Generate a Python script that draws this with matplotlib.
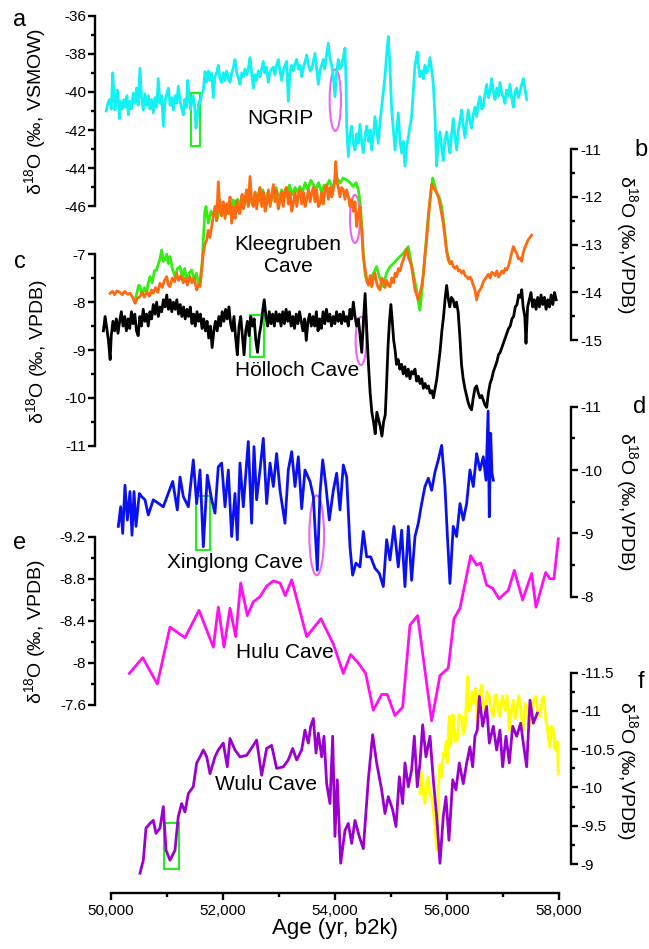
import numpy as np
import matplotlib
matplotlib.use("Agg")
import matplotlib.pyplot as plt
from matplotlib.patches import Rectangle, Ellipse
from matplotlib.ticker import FuncFormatter, MultipleLocator

plt.rcParams['font.family'] = ['Liberation Sans', 'DejaVu Sans']
plt.rcParams['mathtext.fontset'] = 'custom'
plt.rcParams['mathtext.rm'] = 'Liberation Sans'
plt.rcParams['mathtext.it'] = 'Liberation Sans'
plt.rcParams['axes.unicode_minus'] = False

# ---------------- data ----------------
ngrip_age = [49920, 49950, 49980, 50010, 50036, 50060, 50077, 50100, 50118, 50140, 50154, 50180, 50210,
             50237, 50260, 50290, 50314, 50340, 50370, 50403, 50430, 50460, 50490, 50523, 50550, 50582,
             50610, 50640, 50671, 50700, 50730, 50760, 50790, 50820, 50849, 50880, 50910, 50939, 50970,
             51000, 51028, 51060, 51090, 51117, 51150, 51180, 51206, 51240, 51270, 51296, 51320, 51350,
             51374, 51400, 51425, 51445, 51470, 51500, 51522, 51550, 51575, 51594, 51620, 51653, 51683,
             51710, 51742, 51772, 51800, 51831, 51860, 51890, 51920, 51950, 51980, 52010, 52040, 52069,
             52100, 52129, 52160, 52190, 52218, 52250, 52280, 52307, 52340, 52370, 52396, 52430, 52460,
             52486, 52515, 52545, 52575, 52605, 52634, 52665, 52695, 52723, 52750, 52780, 52812, 52840,
             52870, 52902, 52930, 52960, 52991, 53020, 53051, 53080, 53110, 53140, 53169, 53200, 53230,
             53260, 53290, 53319, 53350, 53380, 53408, 53440, 53470, 53497, 53530, 53560, 53587, 53615,
             53646, 53675, 53705, 53735, 53765, 53794, 53820, 53850, 53883, 53910, 53943, 53970, 54002,
             54030, 54062, 54090, 54121, 54150, 54181, 54200, 54211, 54240, 54270, 54300, 54330, 54359,
             54390, 54420, 54448, 54478, 54508, 54538, 54568, 54600, 54630, 54657, 54690, 54716, 54745,
             54775, 54805, 54835, 54865, 54895, 54925, 54954, 54985, 55014, 55045, 55073, 55100, 55132,
             55160, 55192, 55220, 55251, 55280, 55311, 55340, 55370, 55400, 55430, 55450, 55471, 55495,
             55519, 55550, 55580, 55608, 55640, 55670, 55698, 55730, 55757, 55790, 55817, 55845, 55876,
             55905, 55935, 55965, 55995, 56025, 56054, 56085, 56113, 56143, 56173, 56205, 56235, 56263,
             56293, 56322, 56352, 56381, 56410, 56441, 56470, 56500, 56530, 56560, 56590, 56620, 56649,
             56680, 56709, 56740, 56770, 56798, 56830, 56858, 56890, 56920, 56947, 56980, 57010, 57036,
             57065, 57095, 57126, 57155, 57185, 57215, 57245, 57275, 57305, 57335, 57363, 57395, 57423]
ngrip_d18o = [-41.0, -40.6, -40.4, -40.9, -39.0, -40.2, -40.95, -40.3, -39.9, -40.6, -41.4, -40.5, -40.9,
              -40.4, -40.8, -40.2, -41.2, -40.5, -40.9, -40.07, -40.6, -39.8, -40.7, -38.76, -40.3, -40.95,
              -40.1, -40.7, -40.2, -40.9, -40.4, -41.1, -40.3, -40.8, -39.3, -40.6, -40.2, -41.8, -40.5,
              -40.1, -39.8, -40.7, -40.3, -40.95, -40.2, -40.6, -39.7, -40.5, -40.9, -41.2, -40.4, -40.8,
              -39.4, -40.3, -40.9, -40.6, -40.2, -40.8, -41.9, -41.2, -40.5, -40.6, -40.2, -39.9, -38.94,
              -39.5, -38.9, -39.4, -39.0, -40.3, -39.2, -39.0, -38.6, -39.3, -39.5, -39.0, -39.4, -38.9,
              -39.3, -39.5, -39.0, -38.7, -38.3, -39.0, -39.3, -39.6, -39.0, -39.2, -38.8, -39.1, -38.7,
              -38.2, -39.0, -39.8, -39.1, -39.4, -38.9, -39.2, -38.8, -38.4, -39.0, -38.7, -39.5, -39.0,
              -38.8, -38.7, -39.1, -38.6, -38.3, -38.9, -39.4, -38.9, -38.6, -38.4, -40.5, -39.0, -38.6,
              -38.9, -38.5, -38.3, -38.8, -38.6, -39.2, -38.7, -38.4, -38.06, -38.6, -38.9, -38.8, -38.4,
              -37.98, -38.8, -39.6, -38.9, -38.6, -38.3, -38.8, -38.1, -37.45, -38.2, -38.6, -39.1, -40.25,
              -39.0, -38.3, -38.8, -38.6, -38.2, -37.7, -39.5, -41.8, -43.4, -42.3, -41.8, -42.7, -43.05,
              -42.2, -42.7, -41.7, -42.6, -43.2, -42.3, -41.8, -42.6, -42.0, -43.05, -42.2, -41.3, -42.0,
              -42.7, -41.6, -40.8, -40.0, -39.2, -38.0, -37.1, -38.8, -40.95, -42.0, -43.05, -42.2, -41.1,
              -42.5, -43.2, -42.6, -43.9, -42.9, -42.4, -41.8, -41.3, -40.0, -38.6, -38.3, -37.9, -38.7,
              -39.2, -38.9, -39.3, -38.6, -39.0, -38.7, -38.2, -38.9, -39.6, -41.5, -43.9, -42.7, -42.1,
              -42.9, -43.6, -42.5, -42.1, -42.7, -43.2, -42.2, -41.4, -42.3, -43.05, -42.0, -41.5, -40.95,
              -41.8, -42.4, -41.6, -40.95, -41.5, -41.9, -41.2, -40.8, -41.3, -40.6, -40.25, -40.9, -40.8,
              -40.1, -39.6, -40.3, -40.0, -39.3, -40.0, -40.4, -39.8, -40.2, -39.5, -40.1, -40.3, -40.6,
              -39.9, -40.2, -39.6, -40.3, -40.8, -40.0, -39.8, -40.3, -40.0, -39.6, -39.3, -39.9, -40.4]

klee_orange_age = [49988, 50030, 50070, 50110, 50166, 50210, 50250, 50300, 50344, 50390, 50434, 50480, 50523,
                   50560, 50600, 50642, 50690, 50730, 50760, 50800, 50840, 50880, 50920, 50960, 50999, 51030,
                   51058, 51100, 51140, 51177, 51210, 51250, 51296, 51330, 51370, 51415, 51450, 51490, 51534,
                   51565, 51594, 51625, 51653, 51680, 51713, 51740, 51770, 51802, 51830, 51861, 51890, 51920,
                   51950, 51980, 52010, 52040, 52069, 52100, 52130, 52158, 52190, 52220, 52248, 52280, 52307,
                   52340, 52370, 52400, 52426, 52455, 52486, 52515, 52545, 52575, 52605, 52635, 52664, 52695,
                   52725, 52755, 52783, 52815, 52845, 52875, 52902, 52930, 52960, 52990, 53021, 53050, 53080,
                   53110, 53140, 53170, 53200, 53230, 53258, 53290, 53320, 53350, 53377, 53410, 53440, 53470,
                   53497, 53530, 53560, 53590, 53616, 53645, 53675, 53705, 53735, 53765, 53795, 53825, 53854,
                   53885, 53915, 53945, 53973, 54000, 54016, 54040, 54062, 54090, 54120, 54151, 54180, 54210,
                   54240, 54270, 54300, 54330, 54360, 54389, 54420, 54448, 54478, 54508, 54538, 54568, 54600,
                   54630, 54657, 54690, 54716, 54745, 54775, 54806, 54835, 54865, 54895, 54925, 54955, 54984,
                   55015, 55045, 55075, 55103, 55135, 55165, 55195, 55222, 55250, 55281, 55310, 55340, 55370,
                   55400, 55430, 55460, 55489, 55520, 55549, 55580, 55610, 55638, 55665, 55695, 55727, 55757,
                   55787, 55815, 55846, 55875, 55905, 55935, 55965, 55995, 56024, 56055, 56085, 56113, 56145,
                   56175, 56205, 56233, 56265, 56295, 56325, 56352, 56385, 56415, 56441, 56470, 56500, 56530,
                   56560, 56590, 56620, 56650, 56680, 56709, 56740, 56770, 56800, 56828, 56860, 56890, 56920,
                   56947, 56980, 57010, 57040, 57066, 57100, 57130, 57160, 57185, 57215, 57245, 57275, 57305,
                   57334, 57365, 57395, 57423, 57450, 57480, 57512]
klee_orange_d18o = [-14.02, -13.98, -14.05, -13.97, -14.0, -14.05, -13.98, -14.04, -14.02, -14.1, -14.23, -14.12, -14.09,
                    -14.0, -14.1, -13.99, -14.08, -13.95, -14.02, -13.9, -14.0, -13.81, -13.9, -13.75, -13.67, -13.85,
                    -13.88, -13.7, -13.78, -13.6, -13.75, -13.65, -13.8, -13.7, -13.85, -13.67, -13.8, -13.7, -13.95,
                    -13.85, -13.88, -13.5, -13.18, -13.0, -12.9, -12.7, -12.85, -12.62, -12.4, -12.2, -12.5, -11.68,
                    -12.3, -12.4, -12.1, -12.45, -12.14, -12.35, -12.0, -12.55, -12.2, -12.45, -12.07, -12.3, -12.35,
                    -11.95, -12.25, -12.0, -11.85, -12.2, -11.57, -12.1, -12.2, -11.9, -12.25, -11.95, -11.8, -12.2,
                    -11.9, -12.3, -12.14, -11.85, -12.2, -11.95, -11.74, -12.1, -11.85, -12.25, -12.1, -11.9, -12.2,
                    -11.85, -11.8, -12.15, -11.9, -12.3, -12.14, -11.9, -12.2, -11.95, -11.85, -12.15, -11.9, -12.2,
                    -12.06, -11.85, -12.1, -11.9, -11.8, -12.1, -11.85, -12.2, -12.14, -11.9, -12.15, -11.8, -11.74,
                    -12.05, -11.8, -12.0, -11.85, -11.6, -11.26, -11.7, -11.8, -12.0, -11.8, -11.85, -12.05, -11.85,
                    -11.99, -12.2, -12.05, -12.3, -12.1, -12.62, -12.35, -12.2, -12.7, -13.25, -13.5, -13.74, -13.85,
                    -13.65, -13.88, -13.7, -13.6, -13.8, -13.9, -13.95, -13.7, -13.74, -13.9, -13.75, -13.85, -13.88,
                    -13.7, -13.8, -13.6, -13.67, -13.5, -13.55, -13.4, -13.32, -13.2, -13.1, -13.25, -13.35, -13.46,
                    -13.7, -13.95, -14.05, -14.16, -14.0, -13.88, -13.6, -13.2, -12.9, -12.5, -12.1, -11.74, -11.8,
                    -11.85, -11.9, -11.99, -12.15, -12.35, -12.55, -12.85, -13.15, -13.32, -13.4, -13.35, -13.46, -13.5,
                    -13.45, -13.55, -13.53, -13.6, -13.55, -13.65, -13.67, -13.72, -13.68, -13.74, -13.85, -13.95, -14.16,
                    -14.0, -13.95, -13.88, -13.78, -13.72, -13.67, -13.62, -13.7, -13.58, -13.6, -13.65, -13.55, -13.68,
                    -13.63, -13.55, -13.6, -13.5, -13.53, -13.45, -13.3, -13.15, -13.04, -13.12, -13.18, -13.3, -13.28,
                    -13.35, -13.15, -13.05, -12.97, -12.9, -12.85, -12.8]

klee_green_age = [50434, 50470, 50500, 50523, 50560, 50600, 50642, 50670, 50701, 50740, 50780, 50820, 50850,
                  50880, 50909, 50940, 50969, 51000, 51030, 51058, 51100, 51147, 51190, 51237, 51280, 51320,
                  51356, 51400, 51445, 51490, 51530, 51564, 51600, 51630, 51653, 51680, 51701, 51742, 51790,
                  51832, 51870, 51910, 51950, 51990, 52030, 52069, 52110, 52150, 52188, 52230, 52270, 52307,
                  52350, 52400, 52440, 52486, 52530, 52580, 52620, 52664, 52710, 52760, 52810, 52860, 52902,
                  52950, 53000, 53050, 53100, 53140, 53190, 53240, 53290, 53340, 53377, 53420, 53470, 53520,
                  53570, 53616, 53660, 53710, 53760, 53810, 53854, 53900, 53950, 54000, 54040, 54092, 54150,
                  54211, 54270, 54330, 54380, 54419, 54450, 54478, 54508, 54538, 54580, 54627, 54690, 54746,
                  54800, 54865, 54920, 54984, 55040, 55103, 55160, 55222, 55270, 55311, 55350, 55400, 55450,
                  55490, 55519, 55560, 55608, 55650, 55698, 55745, 55780, 55817, 55860, 55906, 55950, 55995,
                  56054]
klee_green_d18o = [-14.16, -14.0, -13.85, -13.88, -14.05, -13.9, -14.02, -13.8, -13.67, -13.8, -13.55, -13.53, -13.4,
                   -13.3, -13.11, -13.35, -13.32, -13.2, -13.4, -13.25, -13.5, -13.67, -13.5, -13.46, -13.7, -13.5,
                   -13.74, -13.6, -13.53, -13.75, -13.6, -13.81, -13.7, -13.4, -12.9, -12.3, -12.2, -12.55, -12.3,
                   -12.41, -12.2, -12.45, -12.06, -12.3, -12.2, -12.35, -12.1, -12.3, -12.06, -12.25, -12.05, -12.2,
                   -11.95, -12.15, -11.9, -11.99, -12.15, -11.9, -12.1, -12.06, -11.85, -12.05, -11.9, -12.1, -11.92,
                   -11.8, -12.05, -11.85, -12.0, -11.99, -11.75, -11.95, -11.8, -11.9, -11.78, -11.9, -11.7, -11.85,
                   -11.65, -11.74, -11.85, -11.7, -11.9, -11.75, -11.78, -11.65, -11.8, -11.7, -11.6, -11.71, -11.6,
                   -11.64, -11.7, -11.78, -11.7, -11.85, -12.1, -12.55, -13.2, -13.6, -13.8, -13.74, -13.6, -13.46,
                   -13.7, -13.88, -13.6, -13.46, -13.4, -13.32, -13.25, -13.18, -13.1, -13.04, -13.3, -13.6, -13.9,
                   -14.2, -14.37, -13.9, -13.25, -12.6, -12.06, -11.6, -11.75, -11.92, -12.0, -12.2, -12.6, -13.11,
                   -13.39]

holloch_age = [49870, 49900, 49930, 49960, 49990, 50010, 50040, 50070, 50100, 50130, 50160, 50190, 50220,
               50250, 50280, 50310, 50340, 50370, 50400, 50430, 50460, 50490, 50520, 50550, 50580, 50610,
               50640, 50670, 50700, 50730, 50760, 50790, 50820, 50850, 50880, 50910, 50940, 50970, 51000,
               51030, 51060, 51090, 51120, 51150, 51180, 51210, 51240, 51270, 51300, 51330, 51360, 51390,
               51420, 51450, 51480, 51510, 51540, 51570, 51600, 51630, 51660, 51690, 51720, 51750, 51780,
               51810, 51840, 51870, 51900, 51930, 51960, 51990, 52020, 52050, 52080, 52110, 52140, 52170,
               52200, 52230, 52260, 52290, 52320, 52350, 52380, 52410, 52440, 52470, 52500, 52530, 52560,
               52590, 52620, 52650, 52680, 52710, 52740, 52770, 52800, 52830, 52860, 52890, 52920, 52950,
               52980, 53010, 53040, 53070, 53100, 53130, 53160, 53190, 53220, 53250, 53280, 53310, 53340,
               53370, 53400, 53430, 53460, 53490, 53520, 53550, 53580, 53610, 53640, 53670, 53700, 53730,
               53760, 53790, 53820, 53850, 53880, 53910, 53940, 53970, 54000, 54030, 54060, 54090, 54120,
               54150, 54180, 54210, 54240, 54270, 54300, 54330, 54360, 54390, 54420, 54450, 54480, 54510,
               54540, 54570, 54600, 54630, 54660, 54690, 54720, 54750, 54780, 54810, 54840, 54870, 54900,
               54920, 54950, 54975, 55000, 55025, 55050, 55075, 55100, 55130, 55160, 55190, 55220, 55250,
               55280, 55310, 55340, 55370, 55400, 55430, 55460, 55490, 55520, 55550, 55580, 55610, 55640,
               55670, 55700, 55730, 55760, 55790, 55820, 55850, 55880, 55910, 55940, 55970, 55995, 56020,
               56050, 56080, 56110, 56140, 56170, 56200, 56230, 56260, 56290, 56320, 56350, 56380, 56410,
               56440, 56470, 56500, 56530, 56560, 56590, 56620, 56650, 56680, 56710, 56740, 56770, 56800,
               56830, 56860, 56890, 56920, 56950, 56980, 57010, 57040, 57070, 57100, 57130, 57160, 57190,
               57220, 57250, 57280, 57310, 57335, 57360, 57390, 57411, 57440, 57470, 57500, 57530, 57560,
               57590, 57620, 57650, 57680, 57710, 57740, 57770, 57800, 57830, 57860, 57890, 57920, 57950]
holloch_d18o = [-8.6, -8.3, -8.55, -8.8, -9.2, -8.7, -8.4, -8.6, -8.35, -8.65, -8.4, -8.2, -8.5,
                -8.3, -8.6, -8.35, -8.55, -8.2, -8.45, -8.25, -8.6, -8.7, -8.3, -8.5, -8.15, -8.4,
                -8.25, -8.5, -8.2, -8.35, -8.05, -8.25, -8.0, -8.3, -8.1, -8.2, -7.95, -8.1, -7.85,
                -8.15, -7.95, -8.2, -8.0, -8.15, -7.95, -8.25, -8.05, -8.3, -8.1, -8.35, -8.15, -8.3,
                -8.1, -8.45, -8.25, -8.5, -8.2, -8.4, -8.25, -8.55, -8.35, -8.6, -8.4, -8.75, -8.5,
                -8.95, -8.6, -8.4, -8.6, -8.3, -8.5, -8.2, -8.4, -8.15, -8.35, -8.1, -8.45, -8.6,
                -8.3, -8.75, -9.1, -8.5, -8.3, -8.7, -9.1, -8.6, -8.4, -8.7, -8.3, -8.5, -8.35,
                -8.8, -9.05, -8.7, -8.5, -8.2, -7.95, -8.3, -8.5, -8.2, -8.45, -8.25, -8.5, -8.2,
                -8.4, -8.25, -8.5, -8.2, -8.45, -8.15, -8.4, -8.2, -8.5, -8.3, -8.55, -8.25, -8.45,
                -8.2, -8.4, -8.6, -8.35, -8.8, -8.4, -8.25, -8.5, -8.3, -8.5, -8.2, -8.6, -8.35,
                -8.55, -8.2, -8.45, -8.15, -8.4, -8.25, -8.5, -8.3, -8.45, -8.2, -8.4, -8.25, -8.45,
                -8.2, -8.4, -8.3, -8.5, -8.15, -8.35, -8.0, -8.3, -8.5, -8.35, -8.7, -9.05, -8.4,
                -7.82, -8.6, -9.3, -9.9, -10.3, -10.5, -10.75, -10.3, -10.45, -10.6, -10.8, -10.5, -10.35,
                -9.8, -8.9, -8.4, -8.05, -8.4, -8.8, -9.0, -9.3, -9.2, -9.4, -9.3, -9.5, -9.35,
                -9.55, -9.4, -9.6, -9.45, -9.5, -9.4, -9.65, -9.55, -9.7, -9.6, -9.8, -9.7, -9.8,
                -9.75, -9.9, -9.85, -10.0, -9.8, -9.6, -9.3, -9.0, -8.6, -8.3, -7.9, -7.65, -7.9,
                -8.1, -7.9, -7.95, -8.1, -8.0, -8.2, -8.7, -9.3, -9.6, -9.8, -9.95, -10.1, -10.2,
                -10.25, -10.0, -9.8, -9.75, -9.9, -10.0, -9.95, -10.05, -10.15, -10.2, -9.9, -9.7, -9.6,
                -9.45, -9.35, -9.25, -9.1, -9.05, -8.95, -8.85, -8.75, -8.65, -8.55, -8.5, -8.35, -8.3,
                -8.1, -8.05, -7.85, -7.9, -7.74, -8.1, -8.3, -8.86, -8.1, -7.95, -7.8, -8.1, -7.95,
                -8.15, -7.9, -8.1, -7.85, -8.05, -7.9, -8.15, -7.95, -8.1, -7.85, -8.05, -7.8, -7.95]

xing_age = [50136, 50178, 50214, 50255, 50297, 50344, 50380, 50416, 50451, 50511, 50553, 50612, 50671,
            50760, 50939, 51106, 51189, 51237, 51296, 51385, 51474, 51534, 51594, 51653, 51724, 51802,
            51861, 51920, 51980, 52040, 52099, 52158, 52218, 52259, 52307, 52366, 52455, 52515, 52557,
            52604, 52664, 52723, 52783, 52843, 52902, 52961, 53021, 53110, 53169, 53230, 53289, 53348,
            53408, 53467, 53557, 53616, 53687, 53735, 53783, 53842, 53901, 53973, 54032, 54092, 54151,
            54211, 54270, 54317, 54377, 54448, 54508, 54568, 54639, 54716, 54793, 54865, 54924, 54984,
            55055, 55132, 55192, 55251, 55311, 55370, 55430, 55489, 55549, 55608, 55668, 55727, 55787,
            55846, 55906, 55965, 56006, 56054, 56113, 56173, 56233, 56292, 56352, 56411, 56471, 56530,
            56590, 56649, 56697, 56735, 56756, 56781, 56804, 56828]
xing_d18o = [-9.11, -9.42, -9.0, -9.76, -9.21, -9.66, -8.97, -9.66, -9.11, -9.63, -9.58, -9.53, -9.29,
             -9.53, -9.42, -9.82, -9.37, -9.89, -9.58, -9.42, -10.16, -9.47, -10.0, -8.79, -9.92, -9.53,
             -9.32, -10.05, -10.11, -9.42, -10.0, -8.95, -9.63, -8.9, -10.11, -9.42, -10.45, -9.16, -10.37,
             -9.53, -10.0, -10.5, -9.47, -10.11, -9.74, -10.26, -9.68, -9.16, -10.0, -10.29, -9.74, -10.21,
             -9.39, -10.0, -9.82, -9.58, -8.42, -9.63, -10.16, -9.74, -9.21, -9.68, -9.95, -9.37, -10.08,
             -9.89, -8.79, -8.34, -8.53, -8.47, -9.03, -8.63, -8.63, -8.45, -8.37, -8.16, -8.9, -8.58,
             -9.11, -8.47, -9.05, -8.16, -9.11, -8.26, -8.95, -9.16, -9.47, -9.74, -9.87, -9.68, -9.97,
             -10.16, -10.39, -9.74, -9.0, -8.21, -9.11, -8.95, -9.47, -9.21, -9.47, -10.0, -9.74, -10.26,
             -10.0, -10.21, -9.84, -10.93, -9.26, -10.58, -9.95, -9.84]

hulu_age = [50333, 50571, 50832, 51058, 51326, 51576, 51832, 51920, 52022, 52129, 52231, 52320, 52438,
            52545, 52664, 52783, 52902, 53021, 53116, 53230, 53497, 53752, 53973, 54151, 54282, 54419,
            54550, 54686, 54835, 54936, 55073, 55210, 55341, 55478, 55727, 55876, 56024, 56126, 56233,
            56424, 56530, 56601, 56709, 56816, 56929, 57095, 57202, 57351, 57512, 57589, 57762, 57839,
            57910, 57988]
hulu_d18o = [-7.9, -8.05, -7.8, -8.34, -8.24, -8.5, -8.15, -8.53, -8.15, -8.52, -8.25, -8.76, -8.45,
             -8.58, -8.63, -8.73, -8.78, -8.76, -8.64, -8.79, -8.25, -8.42, -8.18, -7.9, -8.08, -8.0,
             -7.9, -7.55, -7.7, -7.7, -7.5, -7.58, -8.36, -8.45, -7.45, -7.88, -7.95, -8.42, -8.52,
             -9.02, -8.93, -8.95, -8.74, -8.71, -8.61, -8.69, -8.88, -8.6, -8.85, -8.53, -8.86, -8.8,
             -8.8, -9.18]

wulu_age = [50523, 50582, 50630, 50701, 50760, 50808, 50880, 50939, 50987, 51058, 51147, 51206, 51266,
            51326, 51385, 51474, 51534, 51594, 51653, 51713, 51772, 51861, 51920, 52009, 52081, 52129,
            52218, 52307, 52426, 52545, 52604, 52694, 52783, 52872, 52961, 53080, 53169, 53247, 53319,
            53408, 53467, 53527, 53569, 53616, 53664, 53705, 53765, 53806, 53854, 53913, 53961, 54002,
            54043, 54104, 54181, 54240, 54300, 54359, 54436, 54508, 54597, 54675, 54746, 54835, 54895,
            54954, 55031, 55091, 55151, 55210, 55251, 55311, 55370, 55418, 55471, 55519, 55567, 55626,
            55698, 55757, 55817, 55876, 55935, 55983, 56036, 56103, 56161, 56221, 56292, 56352, 56411,
            56459, 56500, 56542, 56578, 56638, 56709, 56756, 56828, 56887, 56947, 56994, 57054, 57113,
            57173, 57245, 57316, 57363, 57423, 57482, 57542, 57613]
wulu_d18o = [-8.88, -9.05, -9.47, -9.53, -9.57, -9.4, -9.47, -9.75, -9.18, -9.05, -9.18, -9.62, -9.79,
             -9.68, -9.92, -10.01, -10.32, -10.4, -10.49, -10.4, -10.18, -10.4, -10.49, -10.58, -10.27,
             -10.64, -10.49, -10.4, -10.42, -10.55, -10.62, -10.16, -10.51, -10.55, -10.25, -10.27, -10.36,
             -10.51, -10.36, -10.49, -10.75, -10.58, -10.8, -10.9, -10.45, -10.71, -10.4, -10.67, -10.05,
             -9.79, -10.67, -9.36, -10.1, -9.01, -9.44, -9.53, -9.27, -9.57, -9.36, -9.2, -10.1, -10.69,
             -10.32, -9.97, -9.66, -9.88, -9.71, -9.49, -10.14, -9.79, -10.32, -10.01, -10.23, -10.67,
             -10.01, -10.32, -10.82, -10.4, -10.67, -10.1, -9.62, -9.01, -9.62, -9.88, -9.31, -10.1, -9.97,
             -10.32, -10.05, -10.32, -10.53, -10.27, -10.67, -10.75, -11.19, -10.8, -11.06, -10.58, -10.8,
             -10.49, -10.75, -10.27, -10.67, -10.32, -10.8, -10.67, -10.84, -10.58, -10.27, -11.14, -10.84,
             -10.97]

yellow_age = [55519, 55545, 55567, 55590, 55608, 55635, 55668, 55700, 55727, 55755, 55787, 55817, 55846,
              55875, 55906, 55935, 55965, 55985, 56006, 56025, 56042, 56065, 56084, 56105, 56126, 56150,
              56185, 56220, 56263, 56290, 56322, 56345, 56370, 56395, 56424, 56450, 56483, 56510, 56542,
              56580, 56620, 56650, 56679, 56715, 56756, 56790, 56828, 56855, 56887, 56915, 56947, 56990,
              57036, 57075, 57113, 57150, 57185, 57215, 57245, 57280, 57316, 57340, 57363, 57395, 57423,
              57465, 57512, 57550, 57589, 57625, 57661, 57700, 57731, 57760, 57791, 57815, 57839, 57870,
              57899, 57925, 57947, 57970, 57988]
yellow_d18o = [-9.92, -10.2, -10.1, -9.85, -9.79, -10.05, -10.14, -9.9, -9.88, -9.7, -9.49, -9.18, -9.97,
               -10.3, -10.14, -10.45, -10.4, -10.6, -10.32, -10.7, -10.93, -10.55, -10.67, -10.95, -10.88, -10.6,
               -10.62, -10.95, -10.93, -10.7, -10.75, -11.1, -11.45, -11.0, -11.06, -11.25, -11.1, -11.3, -10.88,
               -11.2, -11.34, -11.05, -11.01, -11.25, -11.19, -11.0, -10.93, -11.2, -11.21, -11.0, -10.93, -11.2,
               -11.01, -11.2, -10.75, -11.0, -11.14, -10.9, -10.97, -11.2, -11.06, -10.85, -10.75, -11.1, -11.06,
               -10.8, -10.93, -11.15, -11.19, -10.95, -10.93, -11.15, -11.19, -10.9, -10.8, -10.6, -10.53, -10.8,
               -10.75, -10.5, -10.49, -10.6, -10.18]

x_ticks = [50000, 52000, 54000, 56000, 58000]
ticks_a = [-46, -44, -42, -40, -38, -36]
ticks_b = [-15, -14, -13, -12, -11]
ticks_c = [-11, -10, -9, -8, -7]
ticks_d = [-11, -10, -9, -8]
ticks_e = [-9.2, -8.8, -8.4, -8, -7.6]
ticks_f = [-11.5, -11, -10.5, -10, -9.5, -9]

# ---------------- layout ----------------
W, H = 649, 949
fig = plt.figure(figsize=(W / 100, H / 100), dpi=100)
X0, X1 = 110.7, 559.0
LFT = X0 / W
WID = (X1 - X0) / W
LW_SP = 1.7

def panel(top, bot, lim, ticks, minor, side, off):
    ax = fig.add_axes([LFT, 1 - bot / H, WID, (bot - top) / H])
    ax.patch.set_alpha(0)
    ax.set_xlim(50000, 58000)
    ax.set_ylim(*lim)
    for s in ['top', 'bottom', 'left', 'right']:
        ax.spines[s].set_visible(s == side)
    ax.spines[side].set_position(('outward', off))
    ax.spines[side].set_linewidth(LW_SP)
    ax.set_xticks([])
    if side == 'right':
        ax.yaxis.tick_right()
    ax.set_yticks(ticks)
    ax.yaxis.set_minor_locator(MultipleLocator(minor))
    ax.yaxis.set_major_formatter(FuncFormatter(lambda v, p: '{:g}'.format(round(v, 2))))
    ax.tick_params(axis='y', which='major', length=5, width=LW_SP, labelsize=11, pad=1.5, direction='out')
    ax.tick_params(axis='y', which='minor', length=3, width=LW_SP, direction='out')
    return ax

ax_a = panel(15.7, 206.2, (-46, -36), ticks_a, 1, 'left', 11.3)
ax_b = panel(149.3, 340.0, (-15, -11), ticks_b, 0.5, 'right', 8.6)
ax_c = panel(254.3, 445.7, (-11, -7), ticks_c, 0.5, 'left', 11.3)
ax_d = panel(406.7, 596.7, (-8, -11), ticks_d, 0.5, 'right', 8.6)
ax_e = panel(536.7, 705.0, (-7.6, -9.2), ticks_e, 0.2, 'left', 11.3)
ax_f = panel(672.7, 864.0, (-9, -11.5), ticks_f, 0.25, 'right', 8.6)

LW = 2.0
ax_a.plot(ngrip_age, ngrip_d18o, color='#12F2F2', lw=LW, clip_on=False)
ax_b.plot(klee_green_age, klee_green_d18o, color='#33EE11', lw=LW, clip_on=False)
ax_b.plot(klee_orange_age, klee_orange_d18o, color='#FF6A10', lw=LW, clip_on=False)
ax_c.plot(holloch_age, holloch_d18o, color='black', lw=LW, clip_on=False)
ax_d.plot(xing_age, xing_d18o, color='#0A10F0', lw=LW, clip_on=False)
ax_e.plot(hulu_age, hulu_d18o, color='#FF10F0', lw=LW, clip_on=False)
ax_f.plot(yellow_age, yellow_d18o, color='#FFFF00', lw=LW, clip_on=False)
ax_f.plot(wulu_age, wulu_d18o, color='#9A00D0', lw=LW, clip_on=False)

# x axis
ax_x = fig.add_axes([LFT, 1 - 893 / H, WID, 0.001])
ax_x.patch.set_alpha(0)
for s in ['top', 'left', 'right']:
    ax_x.spines[s].set_visible(False)
ax_x.spines['bottom'].set_linewidth(LW_SP)
ax_x.set_xlim(50000, 58000)
ax_x.set_yticks([])
ax_x.set_xticks(x_ticks)
ax_x.xaxis.set_minor_locator(MultipleLocator(1000))
ax_x.xaxis.set_major_formatter(FuncFormatter(lambda v, p: '{:,.0f}'.format(v)))
ax_x.tick_params(axis='x', which='major', length=5, width=LW_SP, labelsize=11, pad=3)
ax_x.tick_params(axis='x', which='minor', length=3, width=LW_SP)
ax_x.set_xlabel('Age (yr, b2k)', fontsize=16, labelpad=0)

# annotations: green boxes and magenta ellipses
gkw = dict(fill=False, edgecolor='#22EE22', lw=1.5, clip_on=False)
ax_a.add_patch(Rectangle((51433, -42.82), 161, 2.78, **gkw))
ax_c.add_patch(Rectangle((52486, -9.14), 250, 0.87, **gkw))
ax_d.add_patch(Rectangle((51517, -9.59), 255, 0.85, **gkw))
ax_f.add_patch(Rectangle((50957, -9.54), 256, 0.60, **gkw))
ekw = dict(fill=False, edgecolor='#EE66EE', lw=1.5, clip_on=False)
ax_a.add_patch(Ellipse((54008, -40.43), 202, 3.24, **ekw))
ax_b.add_patch(Ellipse((54359, -12.46), 178, 1.01, **ekw))
ax_c.add_patch(Ellipse((54466, -8.81), 190, 1.01, **ekw))
ax_d.add_patch(Ellipse((53676, -8.97), 262, 1.26, **ekw))

# record names
def ftxt(px, py, s, **kw):
    fig.text(px / W, 1 - py / H, s, ha='center', va='center', **kw)

ftxt(280, 118, 'NGRIP', fontsize=15)
ftxt(288, 256, 'Kleegruben\nCave', fontsize=15, linespacing=1.2)
ftxt(297, 370, 'Hölloch Cave', fontsize=15)
ftxt(235, 563, 'Xinglong Cave', fontsize=15)
ftxt(285, 652, 'Hulu Cave', fontsize=15)
ftxt(266, 785, 'Wulu Cave', fontsize=15)

# y labels
ftxt(35, 111, r'δ$^{18}$O (‰, VSMOW)', fontsize=14, rotation=90)
ftxt(627, 245, r'δ$^{18}$O (‰,VPDB)', fontsize=14, rotation=-90)
ftxt(37, 352, r'δ$^{18}$O (‰, VPDB)', fontsize=14, rotation=90)
ftxt(627, 502, r'δ$^{18}$O (‰,VPDB)', fontsize=14, rotation=-90)
ftxt(35, 632, r'δ$^{18}$O (‰, VPDB)', fontsize=14, rotation=90)
ftxt(627, 771, r'δ$^{18}$O (‰,VPDB)', fontsize=14, rotation=-90)

# panel letters
for px, py, s in [(20, 20, 'a'), (641, 150, 'b'), (20, 262, 'c'), (640, 407, 'd'), (20, 543, 'e'), (641, 682, 'f')]:
    ftxt(px, py, s, fontsize=17)

fig.savefig('out.png', dpi=100)
